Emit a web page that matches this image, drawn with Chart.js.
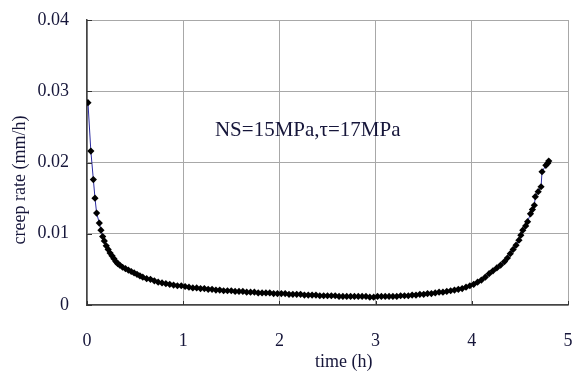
<!DOCTYPE html>
<html>
<head>
<meta charset="utf-8">
<script src="https://cdn.jsdelivr.net/npm/chart.js@4.4.0/dist/chart.umd.min.js"></script>
<style>
  html, body { margin: 0; padding: 0; background: #ffffff; }
  #wrap { width: 572px; height: 373px; }
</style>
</head>
<body>
<div id="wrap"><canvas id="creep" width="572" height="373"></canvas></div>
<script>
// time (h)
const timeValues = [
  0.01, 0.04, 0.066, 0.083, 0.10, 0.128, 0.145, 0.163, 0.18, 0.20,
  0.22, 0.24, 0.26, 0.28, 0.30, 0.32, 0.34, 0.37, 0.40, 0.43,
  0.46, 0.49, 0.52, 0.55, 0.58, 0.62, 0.66, 0.70, 0.74, 0.78,
  0.82, 0.86, 0.90, 0.94, 0.98, 1.02, 1.06, 1.10, 1.14, 1.18,
  1.22, 1.26, 1.30, 1.34, 1.38, 1.42, 1.46, 1.50, 1.54, 1.58,
  1.62, 1.66, 1.70, 1.74, 1.78, 1.82, 1.86, 1.90, 1.94, 1.98,
  2.02, 2.06, 2.10, 2.14, 2.18, 2.22, 2.26, 2.30, 2.34, 2.38,
  2.42, 2.46, 2.50, 2.54, 2.58, 2.62, 2.66, 2.70, 2.74, 2.78,
  2.82, 2.86, 2.90, 2.94, 2.98, 3.02, 3.06, 3.10, 3.14, 3.18,
  3.22, 3.26, 3.30, 3.34, 3.38, 3.42, 3.46, 3.50, 3.54, 3.58,
  3.62, 3.66, 3.70, 3.74, 3.78, 3.82, 3.86, 3.90, 3.94, 3.98,
  4.02, 4.06, 4.10, 4.14, 4.18, 4.22, 4.26, 4.30, 4.34, 4.37,
  4.40, 4.43, 4.46, 4.49, 4.51, 4.53, 4.56, 4.58, 4.61, 4.63,
  4.65, 4.66, 4.69, 4.72, 4.73, 4.77, 4.79, 4.80
];
// creep rate (mm/h)
const rateValues = [
  0.0284, 0.0216, 0.0176, 0.0150, 0.0129, 0.0115, 0.0105, 0.0096, 0.0090, 0.0083,
  0.0078, 0.0073, 0.0069, 0.0065, 0.0061, 0.0058, 0.0056, 0.0053, 0.0051, 0.0049,
  0.0047, 0.0045, 0.0043, 0.0041, 0.0039, 0.0037, 0.0036, 0.0034, 0.0032, 0.0031,
  0.0030, 0.0029, 0.0028, 0.0027, 0.0027, 0.0026, 0.0025, 0.0024, 0.0024, 0.0023,
  0.0023, 0.0022, 0.0022, 0.0021, 0.0021, 0.0020, 0.0020, 0.0020, 0.0019, 0.0019,
  0.0019, 0.0018, 0.0018, 0.0018, 0.0017, 0.0017, 0.0017, 0.0017, 0.0016, 0.0016,
  0.0016, 0.0016, 0.0015, 0.0015, 0.0015, 0.0015, 0.0014, 0.0014, 0.0014, 0.0014,
  0.0013, 0.0013, 0.0013, 0.0013, 0.0013, 0.0012, 0.0012, 0.0012, 0.0012, 0.0012,
  0.0012, 0.0012, 0.0012, 0.0011, 0.0011, 0.0012, 0.0012, 0.0012, 0.0012, 0.0012,
  0.0012, 0.0013, 0.0013, 0.0013, 0.0014, 0.0014, 0.0015, 0.0015, 0.0016, 0.0016,
  0.0017, 0.0018, 0.0018, 0.0019, 0.0020, 0.0021, 0.0022, 0.0023, 0.0025, 0.0027,
  0.0029, 0.0032, 0.0035, 0.0039, 0.0044, 0.0048, 0.0052, 0.0056, 0.0061, 0.0066,
  0.0072, 0.0078, 0.0084, 0.0091, 0.0098, 0.0105, 0.0111, 0.0117, 0.0128, 0.0134,
  0.0140, 0.0152, 0.0159, 0.0166, 0.0187, 0.0196, 0.0199, 0.0202
];

const xTicks = [0, 1, 2, 3, 4, 5];
const yTicks = [0, 0.01, 0.02, 0.03, 0.04];
const xTitle = 'time (h)';
const yTitle = 'creep rate (mm/h)';
const noteText = 'NS=15MPa,\u03c4=17MPa';

const textColor = '#16163a';
const serif = "'Liberation Serif', 'Times New Roman', serif";

// titles, note and the small inward tick marks
const decorations = {
  id: 'decorations',
  afterDraw(chart) {
    const { ctx, scales: { x, y }, chartArea } = chart;
    ctx.save();
    ctx.strokeStyle = '#333333';
    ctx.lineWidth = 1;
    yTicks.forEach((v) => {
      const py = Math.round(y.getPixelForValue(v)) + 0.5;
      ctx.beginPath();
      ctx.moveTo(chartArea.left, py);
      ctx.lineTo(chartArea.left + 5, py);
      ctx.stroke();
    });
    xTicks.forEach((v) => {
      const px = Math.round(x.getPixelForValue(v)) + 0.5;
      ctx.beginPath();
      ctx.moveTo(px, chartArea.bottom);
      ctx.lineTo(px, chartArea.bottom - 4);
      ctx.stroke();
    });

    ctx.fillStyle = textColor;
    ctx.font = `18px ${serif}`;
    ctx.textAlign = 'center';
    ctx.textBaseline = 'middle';
    ctx.fillText(xTitle, x.getPixelForValue(2.67), 362);

    ctx.save();
    ctx.translate(20, 180);
    ctx.rotate(-Math.PI / 2);
    ctx.fillText(yTitle, 0, 0);
    ctx.restore();

    ctx.font = `21px ${serif}`;
    ctx.textAlign = 'left';
    ctx.textBaseline = 'alphabetic';
    ctx.fillText(noteText, x.getPixelForValue(1.33), y.getPixelForValue(0.0237));
    ctx.restore();
  },
};

new Chart(document.getElementById('creep'), {
  type: 'scatter',
  data: {
    datasets: [
      {
        data: timeValues.map((t, i) => ({ x: t, y: rateValues[i] })),
        showLine: true,
        borderColor: '#2b2ba0',
        borderWidth: 1,
        pointStyle: 'rectRot',
        pointRadius: 3.6,
        pointBackgroundColor: '#000000',
        pointBorderColor: '#000000',
        pointBorderWidth: 0,
      },
    ],
  },
  options: {
    responsive: false,
    animation: false,
    events: [],
    layout: { padding: { top: 20, right: 3, left: 0, bottom: 0 } },
    plugins: {
      legend: { display: false },
      tooltip: { enabled: false },
    },
    scales: {
      x: {
        type: 'linear',
        min: 0,
        max: 5,
        afterBuildTicks: (scale) => { scale.ticks = xTicks.map((v) => ({ value: v })); },
        afterFit: (scale) => {
          scale.height = 68;
          scale.paddingLeft = 0;
          scale.paddingRight = 0;
        },
        grid: { color: '#a8a8a8', lineWidth: 1, drawTicks: false },
        border: { color: '#444444', width: 1.5 },
        ticks: {
          padding: 25,
          color: textColor,
          font: { family: serif, size: 18 },
          maxRotation: 0,
        },
      },
      y: {
        min: 0,
        max: 0.04,
        afterBuildTicks: (scale) => { scale.ticks = yTicks.map((v) => ({ value: v })); },
        afterFit: (scale) => {
          scale.width = 87;
          scale.paddingTop = 0;
          scale.paddingBottom = 0;
        },
        grid: { color: '#a8a8a8', lineWidth: 1, drawTicks: false },
        border: { color: '#444444', width: 1.5 },
        ticks: {
          padding: 18,
          color: textColor,
          font: { family: serif, size: 18 },
          callback: (v) => String(v),
        },
      },
    },
  },
  plugins: [decorations],
});
</script>
</body>
</html>
